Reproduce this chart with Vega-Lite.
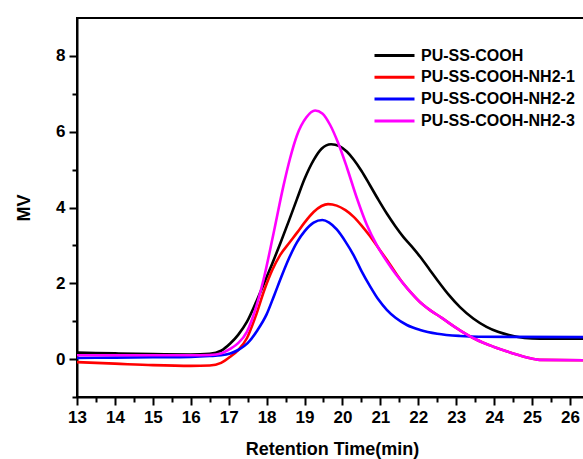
{
  "$schema": "https://vega.github.io/schema/vega-lite/v6.json",
  "autosize": "none",
  "width": 510,
  "height": 379,
  "padding": {"left": 77, "top": 18, "right": 0, "bottom": 62},
  "background": "white",
  "config": {
    "font": "Liberation Sans",
    "view": {"stroke": "black", "strokeWidth": 2},
    "axis": {
      "domainColor": "black", "domainWidth": 2, "tickColor": "black", "tickWidth": 2,
      "labelFont": "Liberation Sans", "labelFontWeight": "bold", "labelFontSize": 17, "labelColor": "black",
      "titleFont": "Liberation Sans", "titleFontWeight": "bold", "titleFontSize": 18, "titleColor": "black",
      "grid": false
    }
  },
  "data": {"values": [
    {"s":"PU-SS-COOH","t":13,"v":0.17},{"s":"PU-SS-COOH","t":14,"v":0.15},{"s":"PU-SS-COOH","t":15,"v":0.13},{"s":"PU-SS-COOH","t":16,"v":0.12},{"s":"PU-SS-COOH","t":16.5,"v":0.14},{"s":"PU-SS-COOH","t":16.8,"v":0.22},{"s":"PU-SS-COOH","t":17.04,"v":0.41},{"s":"PU-SS-COOH","t":17.25,"v":0.64},{"s":"PU-SS-COOH","t":17.48,"v":0.98},{"s":"PU-SS-COOH","t":17.7,"v":1.45},{"s":"PU-SS-COOH","t":17.92,"v":1.97},{"s":"PU-SS-COOH","t":18.15,"v":2.52},{"s":"PU-SS-COOH","t":18.36,"v":3.05},{"s":"PU-SS-COOH","t":18.6,"v":3.68},{"s":"PU-SS-COOH","t":18.8,"v":4.22},{"s":"PU-SS-COOH","t":19.0,"v":4.75},{"s":"PU-SS-COOH","t":19.24,"v":5.25},{"s":"PU-SS-COOH","t":19.45,"v":5.55},{"s":"PU-SS-COOH","t":19.7,"v":5.67},{"s":"PU-SS-COOH","t":19.92,"v":5.62},{"s":"PU-SS-COOH","t":20.12,"v":5.47},{"s":"PU-SS-COOH","t":20.3,"v":5.26},{"s":"PU-SS-COOH","t":20.5,"v":4.97},{"s":"PU-SS-COOH","t":20.73,"v":4.58},{"s":"PU-SS-COOH","t":20.95,"v":4.2},{"s":"PU-SS-COOH","t":21.17,"v":3.84},{"s":"PU-SS-COOH","t":21.4,"v":3.5},{"s":"PU-SS-COOH","t":21.61,"v":3.22},{"s":"PU-SS-COOH","t":21.82,"v":2.98},{"s":"PU-SS-COOH","t":22.05,"v":2.7},{"s":"PU-SS-COOH","t":22.3,"v":2.36},{"s":"PU-SS-COOH","t":22.55,"v":2.02},{"s":"PU-SS-COOH","t":22.8,"v":1.7},{"s":"PU-SS-COOH","t":23.1,"v":1.37},{"s":"PU-SS-COOH","t":23.45,"v":1.07},{"s":"PU-SS-COOH","t":23.8,"v":0.85},{"s":"PU-SS-COOH","t":24.1,"v":0.72},{"s":"PU-SS-COOH","t":24.42,"v":0.63},{"s":"PU-SS-COOH","t":24.8,"v":0.56},{"s":"PU-SS-COOH","t":25.2,"v":0.54},{"s":"PU-SS-COOH","t":26.5,"v":0.54},

    {"s":"PU-SS-COOH-NH2-1","t":13,"v":-0.08},{"s":"PU-SS-COOH-NH2-1","t":14,"v":-0.12},{"s":"PU-SS-COOH-NH2-1","t":15,"v":-0.16},{"s":"PU-SS-COOH-NH2-1","t":16,"v":-0.18},{"s":"PU-SS-COOH-NH2-1","t":16.5,"v":-0.17},{"s":"PU-SS-COOH-NH2-1","t":16.8,"v":-0.1},{"s":"PU-SS-COOH-NH2-1","t":17.04,"v":0.06},{"s":"PU-SS-COOH-NH2-1","t":17.25,"v":0.24},{"s":"PU-SS-COOH-NH2-1","t":17.48,"v":0.55},{"s":"PU-SS-COOH-NH2-1","t":17.7,"v":1.1},{"s":"PU-SS-COOH-NH2-1","t":17.95,"v":1.85},{"s":"PU-SS-COOH-NH2-1","t":18.15,"v":2.35},{"s":"PU-SS-COOH-NH2-1","t":18.36,"v":2.75},{"s":"PU-SS-COOH-NH2-1","t":18.6,"v":3.07},{"s":"PU-SS-COOH-NH2-1","t":18.8,"v":3.33},{"s":"PU-SS-COOH-NH2-1","t":19.0,"v":3.6},{"s":"PU-SS-COOH-NH2-1","t":19.24,"v":3.88},{"s":"PU-SS-COOH-NH2-1","t":19.45,"v":4.04},{"s":"PU-SS-COOH-NH2-1","t":19.62,"v":4.09},{"s":"PU-SS-COOH-NH2-1","t":19.85,"v":4.05},{"s":"PU-SS-COOH-NH2-1","t":20.08,"v":3.93},{"s":"PU-SS-COOH-NH2-1","t":20.29,"v":3.76},{"s":"PU-SS-COOH-NH2-1","t":20.5,"v":3.53},{"s":"PU-SS-COOH-NH2-1","t":20.73,"v":3.24},{"s":"PU-SS-COOH-NH2-1","t":20.95,"v":2.93},{"s":"PU-SS-COOH-NH2-1","t":21.17,"v":2.62},{"s":"PU-SS-COOH-NH2-1","t":21.4,"v":2.28},{"s":"PU-SS-COOH-NH2-1","t":21.6,"v":2.0},{"s":"PU-SS-COOH-NH2-1","t":21.82,"v":1.74},{"s":"PU-SS-COOH-NH2-1","t":22.05,"v":1.5},{"s":"PU-SS-COOH-NH2-1","t":22.3,"v":1.3},{"s":"PU-SS-COOH-NH2-1","t":22.6,"v":1.1},{"s":"PU-SS-COOH-NH2-1","t":23.1,"v":0.76},{"s":"PU-SS-COOH-NH2-1","t":23.5,"v":0.53},{"s":"PU-SS-COOH-NH2-1","t":24.0,"v":0.32},{"s":"PU-SS-COOH-NH2-1","t":24.5,"v":0.15},{"s":"PU-SS-COOH-NH2-1","t":24.87,"v":0.04},{"s":"PU-SS-COOH-NH2-1","t":25.2,"v":-0.02},{"s":"PU-SS-COOH-NH2-1","t":26.5,"v":-0.03},

    {"s":"PU-SS-COOH-NH2-2","t":13,"v":0.03},{"s":"PU-SS-COOH-NH2-2","t":14,"v":0.04},{"s":"PU-SS-COOH-NH2-2","t":15,"v":0.05},{"s":"PU-SS-COOH-NH2-2","t":16,"v":0.06},{"s":"PU-SS-COOH-NH2-2","t":16.5,"v":0.08},{"s":"PU-SS-COOH-NH2-2","t":16.8,"v":0.1},{"s":"PU-SS-COOH-NH2-2","t":17.04,"v":0.15},{"s":"PU-SS-COOH-NH2-2","t":17.25,"v":0.24},{"s":"PU-SS-COOH-NH2-2","t":17.5,"v":0.42},{"s":"PU-SS-COOH-NH2-2","t":17.75,"v":0.75},{"s":"PU-SS-COOH-NH2-2","t":18.0,"v":1.18},{"s":"PU-SS-COOH-NH2-2","t":18.2,"v":1.68},{"s":"PU-SS-COOH-NH2-2","t":18.4,"v":2.2},{"s":"PU-SS-COOH-NH2-2","t":18.6,"v":2.68},{"s":"PU-SS-COOH-NH2-2","t":18.8,"v":3.08},{"s":"PU-SS-COOH-NH2-2","t":19.0,"v":3.37},{"s":"PU-SS-COOH-NH2-2","t":19.24,"v":3.6},{"s":"PU-SS-COOH-NH2-2","t":19.47,"v":3.67},{"s":"PU-SS-COOH-NH2-2","t":19.65,"v":3.6},{"s":"PU-SS-COOH-NH2-2","t":19.85,"v":3.42},{"s":"PU-SS-COOH-NH2-2","t":20.08,"v":3.1},{"s":"PU-SS-COOH-NH2-2","t":20.29,"v":2.75},{"s":"PU-SS-COOH-NH2-2","t":20.5,"v":2.33},{"s":"PU-SS-COOH-NH2-2","t":20.73,"v":1.92},{"s":"PU-SS-COOH-NH2-2","t":20.95,"v":1.57},{"s":"PU-SS-COOH-NH2-2","t":21.17,"v":1.3},{"s":"PU-SS-COOH-NH2-2","t":21.4,"v":1.09},{"s":"PU-SS-COOH-NH2-2","t":21.7,"v":0.9},{"s":"PU-SS-COOH-NH2-2","t":22.05,"v":0.77},{"s":"PU-SS-COOH-NH2-2","t":22.5,"v":0.67},{"s":"PU-SS-COOH-NH2-2","t":23.1,"v":0.61},{"s":"PU-SS-COOH-NH2-2","t":23.6,"v":0.59},{"s":"PU-SS-COOH-NH2-2","t":26.5,"v":0.58},

    {"s":"PU-SS-COOH-NH2-3","t":13,"v":0.1},{"s":"PU-SS-COOH-NH2-3","t":14,"v":0.1},{"s":"PU-SS-COOH-NH2-3","t":15,"v":0.1},{"s":"PU-SS-COOH-NH2-3","t":16,"v":0.1},{"s":"PU-SS-COOH-NH2-3","t":16.5,"v":0.11},{"s":"PU-SS-COOH-NH2-3","t":16.8,"v":0.15},{"s":"PU-SS-COOH-NH2-3","t":17.04,"v":0.27},{"s":"PU-SS-COOH-NH2-3","t":17.25,"v":0.42},{"s":"PU-SS-COOH-NH2-3","t":17.48,"v":0.72},{"s":"PU-SS-COOH-NH2-3","t":17.7,"v":1.3},{"s":"PU-SS-COOH-NH2-3","t":17.92,"v":2.1},{"s":"PU-SS-COOH-NH2-3","t":18.18,"v":3.3},{"s":"PU-SS-COOH-NH2-3","t":18.44,"v":4.55},{"s":"PU-SS-COOH-NH2-3","t":18.62,"v":5.3},{"s":"PU-SS-COOH-NH2-3","t":18.8,"v":5.9},{"s":"PU-SS-COOH-NH2-3","t":19.05,"v":6.38},{"s":"PU-SS-COOH-NH2-3","t":19.28,"v":6.56},{"s":"PU-SS-COOH-NH2-3","t":19.47,"v":6.48},{"s":"PU-SS-COOH-NH2-3","t":19.68,"v":6.17},{"s":"PU-SS-COOH-NH2-3","t":19.88,"v":5.72},{"s":"PU-SS-COOH-NH2-3","t":20.12,"v":5.05},{"s":"PU-SS-COOH-NH2-3","t":20.38,"v":4.25},{"s":"PU-SS-COOH-NH2-3","t":20.64,"v":3.55},{"s":"PU-SS-COOH-NH2-3","t":20.91,"v":3.0},{"s":"PU-SS-COOH-NH2-3","t":21.17,"v":2.58},{"s":"PU-SS-COOH-NH2-3","t":21.4,"v":2.25},{"s":"PU-SS-COOH-NH2-3","t":21.6,"v":2.0},{"s":"PU-SS-COOH-NH2-3","t":21.82,"v":1.74},{"s":"PU-SS-COOH-NH2-3","t":22.05,"v":1.5},{"s":"PU-SS-COOH-NH2-3","t":22.3,"v":1.3},{"s":"PU-SS-COOH-NH2-3","t":22.6,"v":1.1},{"s":"PU-SS-COOH-NH2-3","t":23.1,"v":0.76},{"s":"PU-SS-COOH-NH2-3","t":23.5,"v":0.53},{"s":"PU-SS-COOH-NH2-3","t":24.0,"v":0.32},{"s":"PU-SS-COOH-NH2-3","t":24.5,"v":0.15},{"s":"PU-SS-COOH-NH2-3","t":24.87,"v":0.04},{"s":"PU-SS-COOH-NH2-3","t":25.2,"v":-0.02},{"s":"PU-SS-COOH-NH2-3","t":26.5,"v":-0.03}
  ]},
  "mark": {"type": "line", "interpolate": "monotone", "strokeWidth": 2.6, "clip": true},
  "encoding": {
    "x": {"field": "t", "type": "quantitative",
      "scale": {"domain": [13, 26.45], "nice": false, "zero": false},
      "axis": {"title": "Retention Time(min)", "values": [13,13.5,14,14.5,15,15.5,16,16.5,17,17.5,18,18.5,19,19.5,20,20.5,21,21.5,22,22.5,23,23.5,24,24.5,25,25.5,26],
        "labelExpr": "datum.value % 1 === 0 ? format(datum.value, 'd') : ''",
        "tickSize": {"condition": {"test": "datum.value % 1 !== 0", "value": 5}, "value": 8},
        "labelPadding": 4, "titlePadding": 15, "labelFlush": false}},
    "y": {"field": "v", "type": "quantitative",
      "scale": {"domain": [-1, 9], "nice": false, "zero": false},
      "axis": {"title": "MV", "values": [-1,0,1,2,3,4,5,6,7,8],
        "labelExpr": "datum.value % 2 === 0 ? format(datum.value, 'd') : ''",
        "tickSize": {"condition": {"test": "datum.value % 2 !== 0", "value": 5}, "value": 8},
        "labelPadding": 4, "titlePadding": 22}},
    "color": {"field": "s", "type": "nominal",
      "scale": {"domain": ["PU-SS-COOH","PU-SS-COOH-NH2-1","PU-SS-COOH-NH2-2","PU-SS-COOH-NH2-3"], "range": ["#000000","#ff0000","#0000ff","#ff00ff"]},
      "legend": {"title": null, "orient": "none", "legendX": 306, "legendY": 26,
        "symbolType": "M-2,0H2", "symbolSize": 400, "symbolStrokeWidth": 3, "symbolFillColor": "transparent",
        "labelFont": "Liberation Sans", "labelFontWeight": "bold", "labelFontSize": 16, "labelColor": "black",
        "labelOffset": 15, "rowPadding": 1.8, "padding": 0}}
  }
}
